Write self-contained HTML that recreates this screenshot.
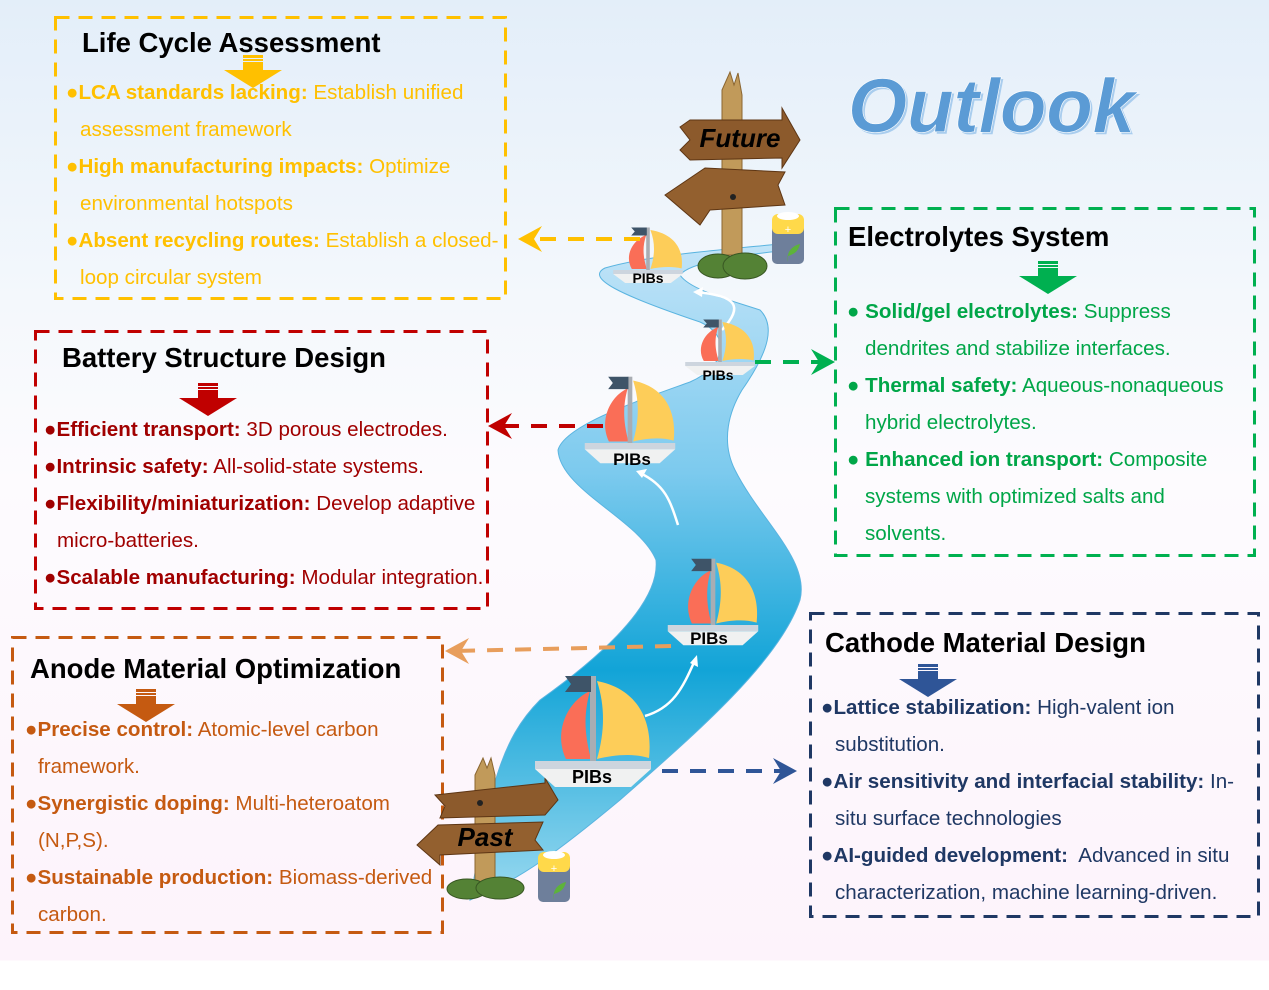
<!DOCTYPE html>
<html><head><meta charset="utf-8"><style>
*{margin:0;padding:0;box-sizing:border-box}
body{width:1269px;height:990px;overflow:hidden;position:relative;font-family:"Liberation Sans",Arial,sans-serif;background:linear-gradient(180deg,#e3eef9 0px,#f4f8fc 300px,#fdfbfe 480px,#fdf3fb 960px,#fff 961px,#fff 990px)}
.t{position:absolute;font-weight:bold;font-size:27.5px;color:#000;white-space:nowrap}
.l{position:absolute;font-size:20.6px;white-space:nowrap;line-height:22px}
.l b{font-weight:bold}
svg{position:absolute;left:0;top:0}
</style></head><body>
<svg width="1269" height="990" viewBox="0 0 1269 990">
<defs>
<linearGradient id="rv" x1="0" y1="0" x2="0" y2="1">
<stop offset="0" stop-color="#c2e4f8"/><stop offset="0.35" stop-color="#7ccaee"/><stop offset="0.65" stop-color="#12a4d7"/><stop offset="1" stop-color="#9ad9f0"/></linearGradient>
<g id="boat">
<path d="M-27,-2 C-40,-30 -25,-60 -3,-70 C-10,-45 -8,-25 -2,-2 Z" fill="#fa6e57"/>
<path d="M4,-80 C45,-72 60,-40 56,-3 C40,-8 20,-6 4,-2 C12,-30 12,-55 4,-80 Z" fill="#fdcd59"/>
<rect x="-3" y="-85" width="6" height="86" fill="#a9adb3"/>
<path d="M-28,-85 L-2,-85 L-2,-69 L-28,-69 L-22,-77 Z" fill="#3e5468"/>
<rect x="-58" y="0" width="116" height="8" fill="#cdd5de"/>
<path d="M-58,8 L58,8 L38,26 L-38,26 Z" fill="#f0f1f1"/>
</g>
<g id="arrdown"><rect x="-10" y="-13" width="20" height="3" /><rect x="-10" y="-9" width="20" height="2"/><rect x="-10" y="-6" width="20" height="8"/><path d="M-29,2 L29,2 L0,20 Z"/></g>
</defs>
<g fill="none" stroke-width="3" stroke-dasharray="14,9">
<rect x="55.5" y="17.5" width="450" height="281" stroke="#ffc000"/>
<rect x="35.5" y="331.5" width="452" height="277" stroke="#c00000"/>
<rect x="12.5" y="637.5" width="430" height="295" stroke="#c55a11"/>
<rect x="835.5" y="208.5" width="419" height="347" stroke="#00b050"/>
<rect x="810.5" y="613.5" width="448" height="303" stroke="#1f3864"/>
</g>
<!-- river -->
<path d="M790,243 C720,250 650,255 605,268 C585,278 620,295 700,322 C730,335 728,365 690,382 C640,400 565,425 558,450 C560,490 640,520 656,560 C660,600 610,650 540,700 C500,740 490,790 470,900 C520,880 560,850 620,800 C700,730 780,660 800,600 C810,560 760,520 735,470 C720,440 730,410 742,390 C770,350 775,325 760,310 C730,300 690,290 680,275 C690,262 740,255 790,250 Z" fill="url(#rv)" stroke="#5ab4e0" stroke-width="1"/>
<g fill="none" stroke="#fff" stroke-width="2.5">
<path d="M722,330 C745,305 735,296 697,292"/><path d="M678,525 C670,500 665,485 640,473"/><path d="M645,716 C672,708 682,690 695,660"/>
</g>
<g fill="#fff"><path d="M693,292 l10,-5 l-1,10z"/><path d="M636,471 l11,-2 l-5,9z"/><path d="M697,655 l1,12 l-8,-4z"/></g>
<!-- top signpost -->
<path d="M722,255 L722,90 L730,72 L734,85 L738,73 L742,95 L742,255 Z" fill="#c19a5a" stroke="#8a6530" stroke-width="1"/>
<path d="M680,127 L690,120 L782,120 L782,108 L800,140 L782,168 L782,158 L690,160 L680,150 L690,140 Z" fill="#8c5a2c" stroke="#5e3614"/>
<path d="M665,195 L705,168 L785,172 L778,185 L785,205 L710,210 L700,225 Z" fill="#93602f" stroke="#5e3614"/>
<circle cx="733" cy="197" r="3" fill="#222"/>
<text x="740" y="147" text-anchor="middle" font-family="Liberation Sans,Arial,sans-serif" font-weight="bold" font-style="italic" font-size="26" fill="#000">Future</text>
<ellipse cx="718" cy="266" rx="20" ry="12" fill="#548235" stroke="#385723"/><ellipse cx="745" cy="266" rx="22" ry="13" fill="#548235" stroke="#385723"/>
<rect x="772" y="222" width="32" height="42" rx="5" fill="#6e7f9b"/><rect x="772" y="214" width="32" height="20" rx="6" fill="#ffd94a"/><ellipse cx="788" cy="216" rx="11" ry="4" fill="#fff"/><text x="788" y="233" text-anchor="middle" font-size="11" fill="#fff" font-family="Liberation Sans">+</text><path d="M788,262 C786,252 792,246 800,244 C798,252 794,254 788,256" fill="#5db33a"/>
<!-- bottom signpost -->
<path d="M475,885 L475,775 L483,758 L487,768 L491,758 L495,775 L495,885 Z" fill="#c19a5a" stroke="#8a6530"/>
<path d="M435,795 L545,783 L545,778 L558,800 L545,815 L440,818 L445,806 Z" fill="#8c5a2c" stroke="#5e3614"/>
<circle cx="480" cy="803" r="3" fill="#222"/>
<path d="M417,845 L438,825 L543,822 L535,840 L543,850 L440,855 L440,865 Z" fill="#93602f" stroke="#5e3614"/>
<text x="485" y="846" text-anchor="middle" font-family="Liberation Sans,Arial,sans-serif" font-weight="bold" font-style="italic" font-size="26" fill="#000">Past</text>
<ellipse cx="467" cy="889" rx="20" ry="10" fill="#548235" stroke="#385723"/><ellipse cx="500" cy="888" rx="24" ry="11" fill="#548235" stroke="#385723"/>
<rect x="538" y="860" width="32" height="42" rx="5" fill="#6e7f9b"/><rect x="538" y="852" width="32" height="20" rx="6" fill="#ffd94a"/><ellipse cx="554" cy="855" rx="11" ry="4" fill="#fff"/><text x="554" y="872" text-anchor="middle" font-size="11" fill="#fff" font-family="Liberation Sans">+</text><path d="M554,900 C552,890 558,884 566,882 C564,890 560,892 554,894" fill="#5db33a"/>
<!-- boats -->
<use href="#boat" transform="translate(648,270) scale(0.6,0.5)"/>
<use href="#boat" transform="translate(720,362) scale(0.6,0.5)"/>
<use href="#boat" transform="translate(630,443) scale(0.78)"/>
<use href="#boat" transform="translate(713,625) scale(0.78)"/>
<use href="#boat" transform="translate(593,761)"/>
<g font-family="Liberation Sans,Arial,sans-serif" font-weight="bold" fill="#000" text-anchor="middle">
<text x="648" y="283" font-size="14">PIBs</text>
<text x="718" y="380" font-size="14">PIBs</text>
<text x="632" y="465" font-size="17">PIBs</text>
<text x="709" y="644" font-size="17">PIBs</text>
<text x="592" y="783" font-size="18">PIBs</text>
</g>
<!-- connectors -->
<g fill="none" stroke-width="4" stroke-dasharray="16,12">
<path d="M640,239 L530,239" stroke="#ffc000"/>
<path d="M603,426 L500,426" stroke="#c00000"/>
<path d="M755,362 L825,362" stroke="#00b050"/>
<path d="M671,646 L455,651" stroke="#e89e5c"/>
<path d="M662,771 L785,771" stroke="#2f5597"/>
</g>
<path d="M518,239 L542,226 L534,239 L542,252 Z" fill="#ffc000"/>
<path d="M488,426 L512,413 L504,426 L512,439 Z" fill="#c00000"/>
<path d="M835,362 L811,349 L819,362 L811,375 Z" fill="#00b050"/>
<path d="M445,651 L469,638 L461,651 L469,664 Z" fill="#e89e5c"/>
<path d="M797,771 L773,758 L781,771 L773,784 Z" fill="#2f5597"/>
<use href="#arrdown" transform="translate(253,68)" fill="#ffc000"/>
<use href="#arrdown" transform="translate(208,396)" fill="#c00000"/>
<use href="#arrdown" transform="translate(1048,274)" fill="#00b050"/>
<use href="#arrdown" transform="translate(146,702)" fill="#c55a11"/>
<use href="#arrdown" transform="translate(928,677)" fill="#2f5597"/>
<text x="848" y="132" font-family="Liberation Sans,Arial,sans-serif" font-weight="bold" font-style="italic" font-size="76" fill="#a9cdee" transform="translate(2,2)">Outlook</text>
<text x="848" y="132" font-family="Liberation Sans,Arial,sans-serif" font-weight="bold" font-style="italic" font-size="76" fill="#5b9bd5" stroke="#fff" stroke-width="0.6">Outlook</text>
</svg>

<div class="t" style="left:82px;top:27px">Life Cycle Assessment</div>
<div style="color:#ffc000">
<div class="l" style="left:66px;top:82px">●<b>LCA standards lacking:</b> Establish unified</div>
<div class="l" style="left:80px;top:119px">assessment framework</div>
<div class="l" style="left:66px;top:156px">●<b>High manufacturing impacts:</b> Optimize</div>
<div class="l" style="left:80px;top:193px">environmental hotspots</div>
<div class="l" style="left:66px;top:230px">●<b>Absent recycling routes:</b> Establish a closed-</div>
<div class="l" style="left:80px;top:267px">loop circular system</div>
</div>

<div class="t" style="left:62px;top:342px">Battery Structure Design</div>
<div style="color:#a00000">
<div class="l" style="left:44px;top:419px">●<b>Efficient transport:</b> 3D porous electrodes.</div>
<div class="l" style="left:44px;top:456px">●<b>Intrinsic safety:</b> All-solid-state systems.</div>
<div class="l" style="left:44px;top:493px">●<b>Flexibility/miniaturization:</b> Develop adaptive</div>
<div class="l" style="left:57px;top:530px">micro-batteries.</div>
<div class="l" style="left:44px;top:567px">●<b>Scalable manufacturing:</b> Modular integration.</div>
</div>

<div class="t" style="left:30px;top:653px">Anode Material Optimization</div>
<div style="color:#c55a11">
<div class="l" style="left:25px;top:719px">●<b>Precise control:</b> Atomic-level carbon</div>
<div class="l" style="left:38px;top:756px">framework.</div>
<div class="l" style="left:25px;top:793px">●<b>Synergistic doping:</b> Multi-heteroatom</div>
<div class="l" style="left:38px;top:830px">(N,P,S).</div>
<div class="l" style="left:25px;top:867px">●<b>Sustainable production:</b> Biomass-derived</div>
<div class="l" style="left:38px;top:904px">carbon.</div>
</div>

<div class="t" style="left:848px;top:221px">Electrolytes System</div>
<div style="color:#00a648">
<div class="l" style="left:847px;top:301px">● <b>Solid/gel electrolytes:</b> Suppress</div>
<div class="l" style="left:865px;top:338px">dendrites and stabilize interfaces.</div>
<div class="l" style="left:847px;top:375px">● <b>Thermal safety:</b> Aqueous-nonaqueous</div>
<div class="l" style="left:865px;top:412px">hybrid electrolytes.</div>
<div class="l" style="left:847px;top:449px">● <b>Enhanced ion transport:</b> Composite</div>
<div class="l" style="left:865px;top:486px">systems with optimized salts and</div>
<div class="l" style="left:865px;top:523px">solvents.</div>
</div>

<div class="t" style="left:825px;top:627px">Cathode Material Design</div>
<div style="color:#1f3864">
<div class="l" style="left:821px;top:697px">●<b>Lattice stabilization:</b> High-valent ion</div>
<div class="l" style="left:835px;top:734px">substitution.</div>
<div class="l" style="left:821px;top:771px">●<b>Air sensitivity and interfacial stability:</b> In-</div>
<div class="l" style="left:835px;top:808px">situ surface technologies</div>
<div class="l" style="left:821px;top:845px">●<b>AI-guided development:</b>&nbsp; Advanced in situ</div>
<div class="l" style="left:835px;top:882px">characterization, machine learning-driven.</div>
</div>
</body></html>
